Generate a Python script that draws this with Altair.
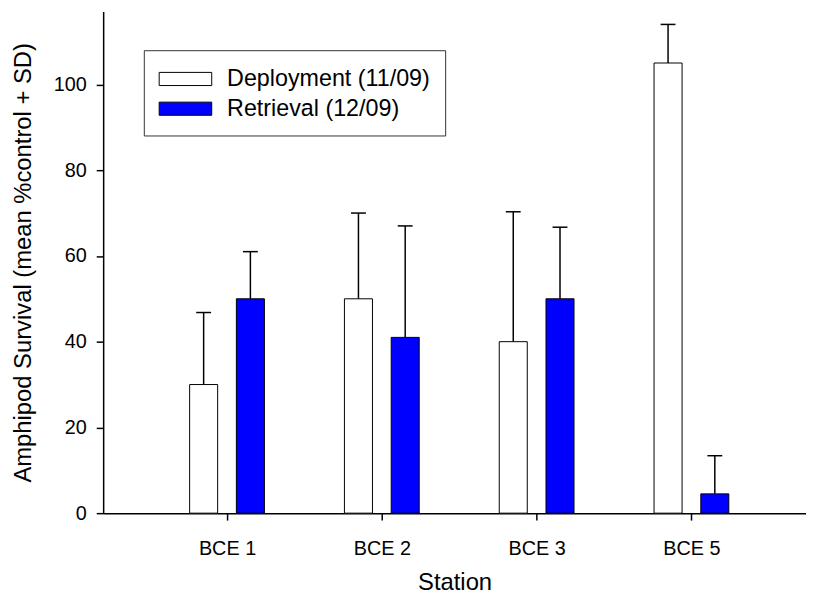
import altair as alt
import pandas as pd

# ---- data ----
stations = ["BCE 1", "BCE 2", "BCE 3", "BCE 5"]
series = ["Deployment (11/09)", "Retrieval (12/09)"]
deploy_mean = [30, 50, 40, 105]
deploy_sd = [16.8, 20, 30.3, 9]
retr_mean = [50, 41, 50, 4.5]
retr_sd = [11, 26, 16.7, 8.9]
y_ticks = [0, 20, 40, 60, 80, 100]

# layout constants (in x-data units, station i sits at i+1)
OFF = 0.151
HALF_W = 0.0905
CAP = 0.048

rows = []
for i, st in enumerate(stations):
    for s, means, sds, sign in [(series[0], deploy_mean, deploy_sd, -1),
                                (series[1], retr_mean, retr_sd, 1)]:
        c = i + 1 + sign * OFF
        rows.append({
            "station": st, "series": s, "mean": means[i],
            "top": means[i] + sds[i],
            "xc": c, "x0": c - HALF_W, "x1": c + HALF_W,
            "c0": c - CAP, "c1": c + CAP,
        })
df = pd.DataFrame(rows)

label_expr = "[" + ",".join("'%s'" % s for s in stations) + "][datum.value - 1]"

xscale = alt.Scale(domain=[0.2, 4.74], nice=False, zero=False)
yscale = alt.Scale(domain=[0, 117], nice=False)

base = alt.Chart(df)

err = base.mark_rule(color="black", strokeWidth=1.5).encode(
    x=alt.X("xc:Q", scale=xscale),
    y=alt.Y("mean:Q", scale=yscale),
    y2="top:Q",
)
cap = base.mark_rule(color="black", strokeWidth=1.5).encode(
    x=alt.X("c0:Q", scale=xscale),
    x2="c1:Q",
    y=alt.Y("top:Q", scale=yscale),
)

bars = base.mark_rect(stroke="black", strokeWidth=1).encode(
    x=alt.X("x0:Q", scale=xscale,
            axis=alt.Axis(values=[1, 2, 3, 4], labelExpr=label_expr,
                          title="Station", labelPadding=19, titlePadding=12)),
    x2="x1:Q",
    y=alt.Y("mean:Q", scale=yscale,
            axis=alt.Axis(values=y_ticks,
                          title="Amphipod Survival (mean %control + SD)",
                          labelPadding=10, titlePadding=18)),
    y2=alt.Y2(datum=0),
    fill=alt.Fill("series:N",
                  scale=alt.Scale(domain=series, range=["#FFFFFF", "#0000FF"]),
                  legend=alt.Legend(
                      title=None, orient="none", legendX=41, legendY=39,
                      padding=15, strokeColor="#333333", fillColor="white",
                      symbolType="M-2,-0.5H2V0.5H-2Z", symbolSize=702,
                      symbolStrokeColor="black", symbolStrokeWidth=1,
                      symbolOffset=13, labelOffset=28, rowPadding=4,
                      labelFontSize=23.5, labelFont="Liberation Sans",
                      labelColor="black", labelLimit=400)),
)

chart = alt.layer(err, cap, bars).properties(
    width=709, height=506,
    autosize=alt.AutoSizeParams(type="none"),
    padding={"left": 96, "top": 1, "right": 0, "bottom": 84},
).configure_view(stroke=None).configure_axis(
    grid=False, domainColor="black", domainWidth=1.5,
    tickColor="black", tickWidth=1.5, tickSize=7,
    labelFont="Liberation Sans", labelFontSize=20, labelColor="black",
    titleFont="Liberation Sans", titleFontSize=24, titleFontWeight="normal",
    titleColor="black",
)

chart.save("out.html", embed_options={"renderer": "svg", "actions": False})
